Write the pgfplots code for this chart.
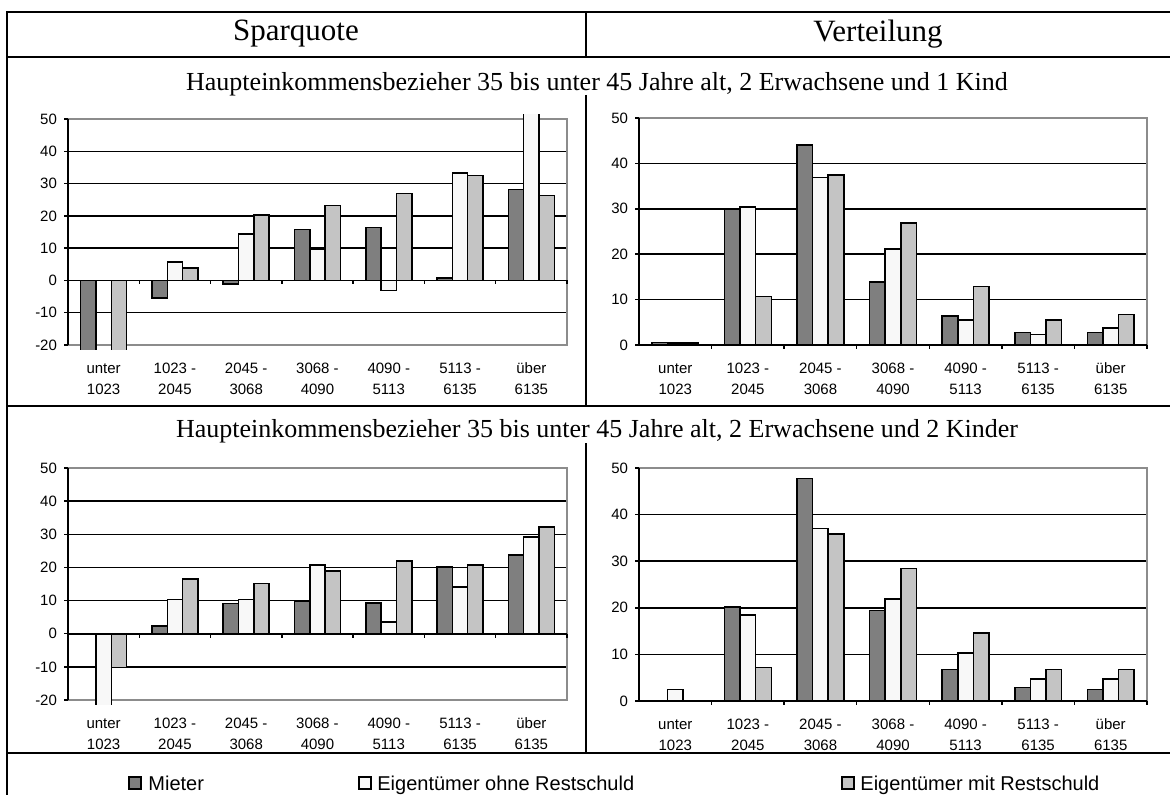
\documentclass[border=0pt]{standalone}
\usepackage{fontspec}
\setmainfont{Liberation Serif}
\setsansfont{Liberation Sans}
\usepackage{pgfplots}
\usepackage{pgfplotstable}
\pgfplotsset{compat=1.18}

\definecolor{mieter}{HTML}{7F7F7F}
\definecolor{ohne}{HTML}{F8F8F8}
\definecolor{mit}{HTML}{C4C4C4}
\definecolor{rahmen}{HTML}{8C8C8C}

% Sparquote, 2 Erwachsene und 1 Kind
\pgfplotstableread{
k mieter ohne mit
0 -25 nan -25
1 -5.5 5.7 3.9
2 -1.1 14.4 20.2
3 15.8 9.8 23.2
4 16.4 -3.1 27.0
5 0.8 33.3 32.5
6 28.2 55 26.3
}\spEins
% Verteilung, 2 Erwachsene und 1 Kind
\pgfplotstableread{
k mieter ohne mit
0 0.5 0.4 0.4
1 30.0 30.4 10.7
2 44.1 36.9 37.4
3 13.9 21.2 26.9
4 6.4 5.5 12.9
5 2.8 2.3 5.5
6 2.8 3.7 6.7
}\vtEins
% Sparquote, 2 Erwachsene und 2 Kinder
\pgfplotstableread{
k mieter ohne mit
0 nan -25 -10.2
1 2.4 10.3 16.5
2 9.1 10.3 15.2
3 9.8 20.7 18.9
4 9.2 3.5 21.9
5 20.1 14.1 20.7
6 23.8 29.2 32.2
}\spZwei
% Verteilung, 2 Erwachsene und 2 Kinder
\pgfplotstableread{
k mieter ohne mit
0 nan 2.5 nan
1 20.2 18.5 7.2
2 47.8 37.0 35.8
3 19.4 21.9 28.4
4 6.8 10.3 14.6
5 2.9 4.7 6.8
6 2.5 4.7 6.8
}\vtZwei

\pgfplotsset{
  panel/.style={
    scale only axis,
    clip mode=individual,
    xmin=-0.5, xmax=6.5,
    axis line style={draw=none},
    xtick={0,...,6},
    xticklabels={{\strut unter\\\strut 1023},{\strut 1023 -\\\strut 2045},{\strut 2045 -\\\strut 3068},{\strut 3068 -\\\strut 4090},{\strut 4090 -\\\strut 5113},{\strut 5113 -\\\strut 6135},{\strut über\\\strut 6135}},
    x tick style={draw=none},
    ytick pos=left,
    y tick style={black, line width=0.75pt},
    tick align=outside,
    major tick length=2pt,
    ymajorgrids,
    grid style={black, line width=0.75pt},
    tick label style={font=\sffamily\fontsize{7.5}{10.5}\selectfont},
    xticklabel style={align=center, anchor=north},
    /pgf/number format/assume math mode=true,
  },
  balken/.style={ybar, bar width=0.215, draw=black, line width=0.75pt, fill=#1},
}

\newcommand{\serien}[1]{%
  \addplot[balken=mieter, bar shift=-0.215] table[x=k, y=mieter] {#1};
  \addplot[balken=ohne, bar shift=0] table[x=k, y=ohne] {#1};
  \addplot[balken=mit, bar shift=0.215] table[x=k, y=mit] {#1};
}

\begin{document}
\begin{tikzpicture}
\useasboundingbox (0pt,0pt) rectangle (585pt,397pt);

% Tabellenrahmen und Beschriftungen (Koordinaten in Pixeln, y nach unten)
\begin{scope}[x=0.5pt, y=-0.5pt, shift={(0pt,397pt)}]
  \begin{scope}[line width=1.2pt]
    \draw (1175,12) -- (7,12) -- (7,800);
    \draw (7,57) -- (1175,57);
    \draw (7,406) -- (1175,406);
    \draw (7,753) -- (1175,753);
    \draw (586,12) -- (586,57);
    \draw (586,95) -- (586,406);
    \draw (586,443) -- (586,753);
  \end{scope}
  \node[font=\fontsize{15.5}{18}\selectfont] at (296,34) {Sparquote};
  \node[font=\fontsize{15.5}{18}\selectfont] at (878,34) {Verteilung};
  \node[anchor=base, font=\fontsize{13}{16}\selectfont] at (597,91)
    {Haupteinkommensbezieher 35 bis unter 45 Jahre alt, 2 Erwachsene und 1 Kind};
  \node[anchor=base, font=\fontsize{13}{16}\selectfont] at (597,437)
    {Haupteinkommensbezieher 35 bis unter 45 Jahre alt, 2 Erwachsene und 2 Kinder};
  % Legende
  \begin{scope}[line width=0.6pt]
    \filldraw[fill=mieter] (129,777) rectangle (141,789);
    \filldraw[fill=ohne] (359,777) rectangle (371,789);
    \filldraw[fill=mit] (842,777) rectangle (854,789);
  \end{scope}
  \begin{scope}[every node/.style={anchor=base west, inner sep=0pt, font=\sffamily\fontsize{10}{12}\selectfont}]
    \node at (148,790) {Mieter};
    \node at (377,790) {Eigentümer ohne Restschuld};
    \node at (860,790) {Eigentümer mit Restschuld};
  \end{scope}
\end{scope}

% oben links: Sparquote, 1 Kind
\begin{axis}[panel, at={(34pt,222.4pt)}, anchor=south west,
    width=249.5pt, height=117.36pt,
    ymin=-21.3, ymax=51.4, ytick={-20,-10,...,50},
    xticklabel style={yshift=0.8pt}]
  \draw[rahmen, line width=0.8pt] (axis cs:-0.5,50) -- (axis cs:6.5,50) -- (axis cs:6.5,-20) -- (axis cs:-0.5,-20);
  \serien{\spEins}
  \draw[black, line width=0.8pt] (axis cs:-0.5,-20) -- (axis cs:-0.5,50);
  \draw[black, line width=0.8pt] (axis cs:-0.5,0) -- (axis cs:6.5,0);
  \pgfplotsinvokeforeach{0.5,1.5,2.5,3.5,4.5,5.5,6.5}{\draw[black, line width=0.75pt] (axis cs:#1,0) -- ++(0pt,-2pt);}
\end{axis}

% oben rechts: Verteilung, 1 Kind
\begin{axis}[panel, at={(319.5pt,224.5pt)}, anchor=south west,
    width=254pt, height=113.5pt,
    ymin=0, ymax=50, ytick={0,10,...,50},
    xticklabel style={yshift=-1.3pt}]
  \draw[rahmen, line width=0.8pt] (axis cs:-0.5,50) -- (axis cs:6.5,50) -- (axis cs:6.5,0);
  \serien{\vtEins}
  \draw[black, line width=0.8pt] (axis cs:-0.5,0) -- (axis cs:-0.5,50);
  \draw[black, line width=0.8pt] (axis cs:-0.5,0) -- (axis cs:6.5,0);
  \pgfplotsinvokeforeach{0.5,1.5,2.5,3.5,4.5,5.5,6.5}{\draw[black, line width=0.75pt] (axis cs:#1,0) -- ++(0pt,-2pt);}
\end{axis}

% unten links: Sparquote, 2 Kinder
\begin{axis}[panel, at={(34pt,44.85pt)}, anchor=south west,
    width=249.5pt, height=120.45pt,
    ymin=-21.3, ymax=51.4, ytick={-20,-10,...,50},
    xticklabel style={yshift=0.8pt}]
  \draw[rahmen, line width=0.8pt] (axis cs:-0.5,50) -- (axis cs:6.5,50) -- (axis cs:6.5,-20) -- (axis cs:-0.5,-20);
  \serien{\spZwei}
  \draw[black, line width=0.8pt] (axis cs:-0.5,-20) -- (axis cs:-0.5,50);
  \draw[black, line width=0.8pt] (axis cs:-0.5,0) -- (axis cs:6.5,0);
  \pgfplotsinvokeforeach{0.5,1.5,2.5,3.5,4.5,5.5,6.5}{\draw[black, line width=0.75pt] (axis cs:#1,0) -- ++(0pt,-2pt);}
\end{axis}

% unten rechts: Verteilung, 2 Kinder
\begin{axis}[panel, at={(319.5pt,46.5pt)}, anchor=south west,
    width=254pt, height=116.5pt,
    ymin=0, ymax=50, ytick={0,10,...,50},
    xticklabel style={yshift=-1.3pt}]
  \draw[rahmen, line width=0.8pt] (axis cs:-0.5,50) -- (axis cs:6.5,50) -- (axis cs:6.5,0);
  \serien{\vtZwei}
  \draw[black, line width=0.8pt] (axis cs:-0.5,0) -- (axis cs:-0.5,50);
  \draw[black, line width=0.8pt] (axis cs:-0.5,0) -- (axis cs:6.5,0);
  \pgfplotsinvokeforeach{0.5,1.5,2.5,3.5,4.5,5.5,6.5}{\draw[black, line width=0.75pt] (axis cs:#1,0) -- ++(0pt,-2pt);}
\end{axis}
\end{tikzpicture}
\end{document}
